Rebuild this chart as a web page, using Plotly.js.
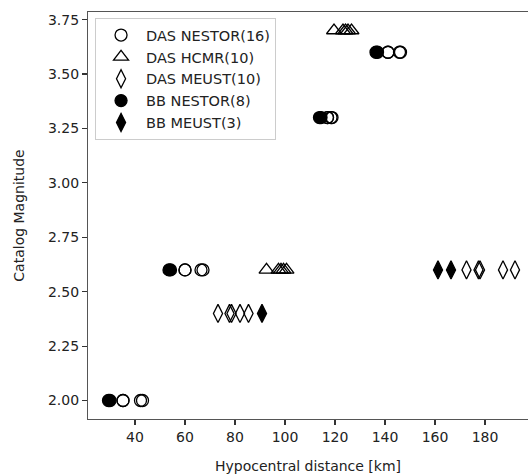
<!DOCTYPE html>
<html>
<head>
<meta charset="utf-8">
<script src="https://cdn.plot.ly/plotly-3.0.1.min.js"></script>
<style>html,body{margin:0;padding:0;background:#fff;}#chart{width:528px;height:475px;}</style>
</head>
<body>
<div id="chart"></div>
<script>
// Data
const dasNestorX = [35.2, 35.2, 42.2, 43.0, 60.0, 60.0, 66.4, 67.2, 117.0, 117.0, 118.4, 118.8, 141.2, 141.2, 145.8, 146.2];
const dasNestorY = [2.0, 2.0, 2.0, 2.0, 2.6, 2.6, 2.6, 2.6, 3.3, 3.3, 3.3, 3.3, 3.6, 3.6, 3.6, 3.6];

const dasHcmrX = [92.6, 97.4, 98.4, 99.4, 100.6, 119.6, 123.2, 124.2, 125.2, 126.6];
const dasHcmrY = [2.6, 2.6, 2.6, 2.6, 2.6, 3.7, 3.7, 3.7, 3.7, 3.7];

const dasMeustX = [73.2, 77.8, 78.6, 82.0, 85.4, 172.6, 177.4, 178.0, 187.2, 192.0];
const dasMeustY = [2.4, 2.4, 2.4, 2.4, 2.4, 2.6, 2.6, 2.6, 2.6, 2.6];

const bbNestorX = [29.4, 30.0, 53.6, 54.2, 113.8, 114.4, 136.4, 137.0];
const bbNestorY = [2.0, 2.0, 2.6, 2.6, 3.3, 3.3, 3.6, 3.6];

const bbMeustX = [90.8, 161.2, 166.4];
const bbMeustY = [2.4, 2.6, 2.6];

const seriesNames = ['DAS NESTOR(16)', 'DAS HCMR(10)', 'DAS MEUST(10)', 'BB NESTOR(8)', 'BB MEUST(3)'];
const xTicks = [40, 60, 80, 100, 120, 140, 160, 180];
const yTicks = [2.00, 2.25, 2.50, 2.75, 3.00, 3.25, 3.50, 3.75];

const FONT = 'DejaVu Sans, sans-serif';
const TXT = '#222';

function mk(x, y, name, symbol, size) {
  return {
    type: 'scatter', mode: 'markers', x: x, y: y, name: name,
    marker: {symbol: symbol, size: size, color: '#000', line: {color: '#000', width: 1.3}}
  };
}

const traces = [
  mk(dasNestorX, dasNestorY, seriesNames[0], 'circle-open', 12),
  mk(dasHcmrX, dasHcmrY, seriesNames[1], 'triangle-up-open', 13),
  mk(dasMeustX, dasMeustY, seriesNames[2], 'diamond-tall-open', 13),
  mk(bbNestorX, bbNestorY, seriesNames[3], 'circle', 12),
  mk(bbMeustX, bbMeustY, seriesNames[4], 'diamond-tall', 13)
];

const layout = {
  width: 528, height: 475,
  margin: {l: 88, r: 0, t: 12, b: 56},
  paper_bgcolor: '#fff', plot_bgcolor: '#fff',
  font: {family: FONT, size: 14, color: TXT},
  showlegend: true,
  legend: {
    x: 0.016, y: 0.985, xanchor: 'left', yanchor: 'top',
    bgcolor: '#fff', bordercolor: '#ccc', borderwidth: 1,
    font: {family: FONT, size: 14.5, color: TXT},
    itemwidth: 40
  },
  xaxis: {
    range: [21.2, 197.2],
    tickmode: 'array', tickvals: xTicks, ticktext: xTicks.map(String),
    ticks: 'outside', ticklen: 5, tickwidth: 1.1, tickcolor: '#333',
    showline: true, linecolor: '#555', linewidth: 1.1, mirror: true,
    showgrid: false, zeroline: false,
    tickfont: {family: FONT, size: 14, color: TXT},
    title: {text: 'Hypocentral distance [km]', font: {family: FONT, size: 14, color: TXT}, standoff: 17}
  },
  yaxis: {
    range: [1.915, 3.785],
    tickmode: 'array', tickvals: yTicks, ticktext: yTicks.map(v => v.toFixed(2)),
    ticks: 'outside', ticklen: 5, tickwidth: 1.1, tickcolor: '#333',
    showline: true, linecolor: '#555', linewidth: 1.1, mirror: false,
    showgrid: false, zeroline: false,
    tickfont: {family: FONT, size: 14, color: TXT},
    title: {text: 'Catalog Magnitude', font: {family: FONT, size: 14, color: TXT}, standoff: 20}
  }
};

Plotly.newPlot('chart', traces, layout, {displayModeBar: false, staticPlot: true});
</script>
</body>
</html>
